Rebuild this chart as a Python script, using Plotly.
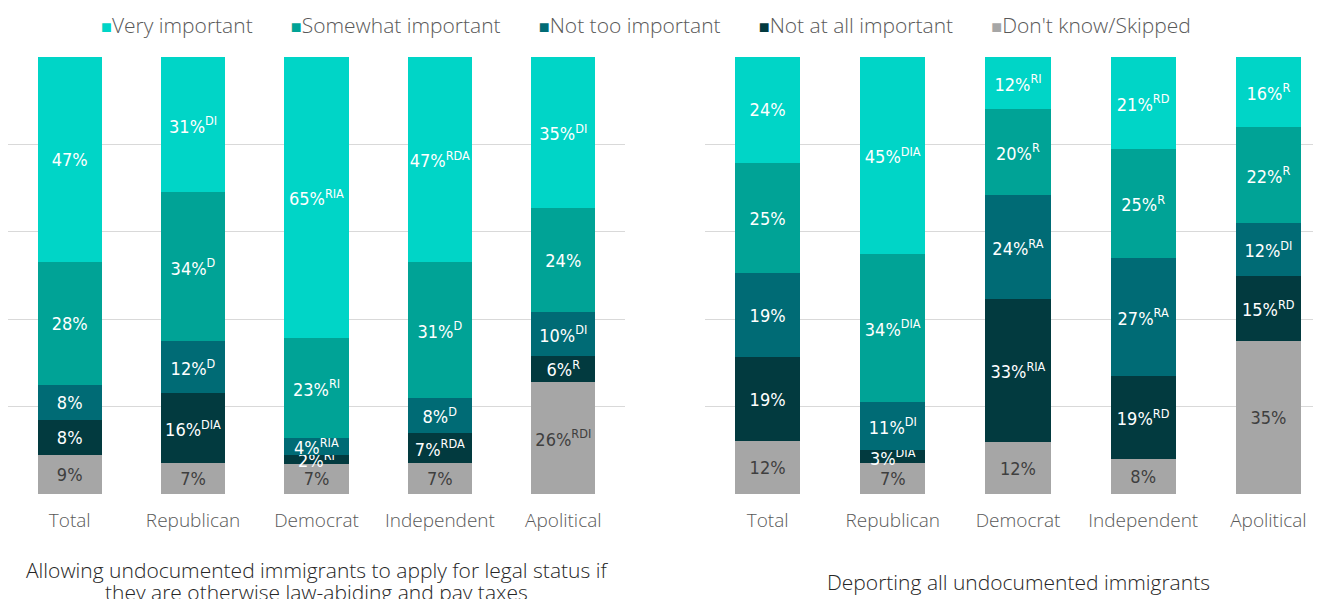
import plotly.graph_objects as go

categories = ["Total", "Republican", "Democrat", "Independent", "Apolitical"]
series_names = ["Very important", "Somewhat important", "Not too important",
                "Not at all important", "Don't know/Skipped"]
series_colors = ["#00D5C7", "#00A396", "#006B75", "#023A3F", "#A6A6A6"]

# Chart 1: Allowing undocumented immigrants to apply for legal status
legal_very = [47, 31, 65, 47, 35]
legal_very_sup = ["", "DI", "RIA", "RDA", "DI"]
legal_somewhat = [28, 34, 23, 31, 24]
legal_somewhat_sup = ["", "D", "RI", "D", ""]
legal_nottoo = [8, 12, 4, 8, 10]
legal_nottoo_sup = ["", "D", "RIA", "D", "DI"]
legal_notatall = [8, 16, 2, 7, 6]
legal_notatall_sup = ["", "DIA", "RI", "RDA", "R"]
legal_dk = [9, 7, 7, 7, 26]
legal_dk_sup = ["", "", "", "", "RDI"]

# Chart 2: Deporting all undocumented immigrants
deport_very = [24, 45, 12, 21, 16]
deport_very_sup = ["", "DIA", "RI", "RD", "R"]
deport_somewhat = [25, 34, 20, 25, 22]
deport_somewhat_sup = ["", "DIA", "R", "R", "R"]
deport_nottoo = [19, 11, 24, 27, 12]
deport_nottoo_sup = ["", "DI", "RA", "RA", "DI"]
deport_notatall = [19, 3, 33, 19, 15]
deport_notatall_sup = ["", "DIA", "RIA", "RD", "RD"]
deport_dk = [12, 7, 12, 8, 35]
deport_dk_sup = ["", "", "", "", ""]

title_left_lines = ["Allowing undocumented immigrants to apply for legal status if",
                    "they are otherwise law-abiding and pay taxes"]
title_right = "Deporting all undocumented immigrants"

LABEL_FONT = "DejaVu Sans Condensed, Roboto, sans-serif"
AXIS_FONT = "Open Sans, Lato, sans-serif"

legal = [(legal_dk, legal_dk_sup), (legal_notatall, legal_notatall_sup),
         (legal_nottoo, legal_nottoo_sup), (legal_somewhat, legal_somewhat_sup),
         (legal_very, legal_very_sup)]
deport = [(deport_dk, deport_dk_sup), (deport_notatall, deport_notatall_sup),
          (deport_nottoo, deport_nottoo_sup), (deport_somewhat, deport_somewhat_sup),
          (deport_very, deport_very_sup)]
stack_names = series_names[::-1]
stack_colors = series_colors[::-1]


def labels(vals, sups):
    out = []
    for v, s in zip(vals, sups):
        out.append(f"{v}%" + (f"<sup>{s}</sup>" if s else ""))
    return out


fig = go.Figure()
for data, xa, ya in [(legal, "x", "y"), (deport, "x2", "y2")]:
    for (vals, sups), name, col in zip(data, stack_names, stack_colors):
        txtcol = "#3F3F3F" if name.startswith("Don't") else "#FFFFFF"
        fig.add_trace(go.Bar(
            x=categories, y=vals, name=name, marker=dict(color=col, line=dict(width=0)),
            text=labels(vals, sups), textposition="inside", insidetextanchor="middle",
            textangle=0, constraintext="none",
            textfont=dict(family=LABEL_FONT, size=18, color=txtcol),
            xaxis=xa, yaxis=ya, showlegend=False, hoverinfo="skip",
        ))

# page body has an 8px margin; the figure is sized so the page is filled
W, H = 1313, 591
PLOT_H = 437
BOTTOM = H - 105  # figure-pixel y of the baseline

axis_common = dict(showgrid=False, showline=False, zeroline=False, ticks="",
                   tickfont=dict(family=AXIS_FONT, size=19, color="#595959", weight=300),
                   ticklabelstandoff=13, fixedrange=True)
yaxis_common = dict(range=[0, 100], showticklabels=False, showgrid=True,
                    gridcolor="#D9D9D9", gridwidth=1, dtick=20, tick0=0,
                    zeroline=False, showline=False, ticks="")

# legend built from names and colours
legend_parts = []
for name, col in zip(series_names, series_colors):
    legend_parts.append(f"<span style='color:{col};font-size:18px'>■</span>{name}")
legend_text = ("\u00a0" * 7).join(legend_parts)

title_font = dict(family=AXIS_FONT, size=21, color="#262626", weight=300)
annotations = [
    dict(text=legend_text, xref="paper", yref="paper", x=638 / W,
         y=(BOTTOM - 17) / PLOT_H, xanchor="center", yanchor="middle", showarrow=False,
         font=dict(family=AXIS_FONT, size=21, color="#595959", weight=300)),
    dict(text=title_right, xref="x2", yref="paper", x="Democrat", y=(BOTTOM - 574) / PLOT_H,
         xanchor="center", yanchor="middle", showarrow=False, font=title_font),
]
for i, line in enumerate(title_left_lines):
    annotations.append(dict(text=line, xref="x", yref="paper", x="Democrat",
                            y=(BOTTOM - 562 - 22 * i) / PLOT_H, xanchor="center",
                            yanchor="middle", showarrow=False, font=title_font))

fig.update_layout(
    width=W, height=H,
    margin=dict(l=0, r=0, t=49, b=105),
    paper_bgcolor="white", plot_bgcolor="white",
    barmode="stack", barnorm="percent", bargap=0.48,
    xaxis=dict(domain=[0, 617 / W], range=[-0.5, 4.5], **axis_common),
    xaxis2=dict(domain=[697 / W, 1], range=[-0.5, 4.42], anchor="y2", **axis_common),
    yaxis=dict(domain=[0, 1], anchor="x", **yaxis_common),
    yaxis2=dict(domain=[0, 1], anchor="x2", **yaxis_common),
    annotations=annotations,
)

fig.write_html("out.html")
